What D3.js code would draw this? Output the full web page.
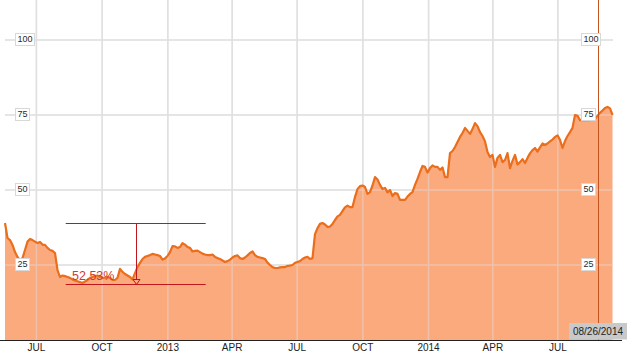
<!DOCTYPE html>
<html>
<head>
<meta charset="utf-8">
<script src="https://cdn.jsdelivr.net/npm/d3@7/dist/d3.min.js"></script>
<style>
  html, body { margin: 0; padding: 0; background: #fff; }
  svg { display: block; font-family: "Liberation Sans", Arial, sans-serif; }
</style>
</head>
<body>
<svg id="chart" width="629" height="358"></svg>
<script>
// ---- data ----
const startDate = "2012-05-18";
const endDate = "2014-09-15T12:00:00Z";
const stepHours = 84; // half-week sampling
const prices = [
  39.0,34.0,33.3,31.7,29.3,27.7,26.5,27.3,30.0,32.8,
  33.7,33.3,32.8,32.3,32.7,31.8,31.7,30.7,30.0,29.7,
  29.0,23.3,21.0,21.5,21.3,21.0,20.7,20.2,19.8,19.6,
  19.3,19.0,19.5,20.0,20.7,21.0,21.3,21.5,21.0,20.7,
  20.8,21.0,20.7,20.0,20.0,20.7,23.7,22.7,22.0,21.5,
  21.0,20.2,22.3,24.3,25.7,27.0,27.7,28.0,28.3,28.7,
  28.5,28.3,28.0,26.8,27.2,28.0,29.3,31.3,31.2,30.7,
  31.0,32.3,31.8,31.0,30.7,29.5,29.7,29.8,29.3,28.8,
  28.5,28.3,28.3,28.5,27.7,27.3,27.0,26.5,26.0,26.3,
  26.8,27.5,28.0,28.2,27.3,27.0,27.5,28.2,29.0,29.5,
  28.3,27.7,27.5,27.3,27.0,25.8,25.0,24.3,24.0,24.0,
  24.2,24.3,24.3,24.7,24.8,25.0,25.7,26.0,26.3,27.0,
  27.5,27.7,27.0,27.3,35.3,37.3,38.7,39.0,38.5,37.7,
  37.8,38.7,40.0,41.2,41.7,43.0,44.2,44.8,44.3,44.3,
  47.7,50.3,51.3,51.5,51.0,48.7,49.3,51.5,54.3,53.5,
  51.7,50.3,50.7,49.2,50.0,48.0,49.0,48.7,46.7,46.7,
  46.7,47.8,48.7,49.3,51.7,53.7,56.0,58.0,57.7,55.8,
  57.3,58.2,57.7,57.7,56.7,57.5,54.3,54.3,62.3,63.0,
  64.3,66.0,67.7,69.0,70.7,69.7,68.7,70.3,72.3,71.3,
  69.3,68.0,66.2,62.7,61.0,61.7,57.7,60.7,61.7,59.3,
  60.0,62.3,57.3,59.7,61.7,58.5,59.3,60.3,59.0,60.7,
  62.2,63.3,64.0,62.8,64.2,65.5,65.0,65.5,66.2,66.8,
  67.7,68.2,66.7,64.0,66.3,68.0,69.3,70.7,75.0,74.7,
  73.3,73.3,73.3,73.3,73.3,73.7,73.7,74.7,75.7,76.5,
  77.3,77.7,77.2,75.0
];
const yTicks = [25, 50, 75, 100];
const xTickDates = ["2012-07-01","2012-10-01","2013-01-01","2013-04-01","2013-07-01","2013-10-01","2014-01-01","2014-04-01","2014-07-01"];
const xTickLabels = ["JUL","OCT","2013","APR","JUL","OCT","2014","APR","JUL"];
const markerDate = "2014-08-26";
const markerLabel = "08/26/2014";
const annFrom = "2012-08-11", annTo = "2013-02-23", annArrow = "2012-11-17";
const annHigh = 39.1, annLow = 18.7;
const annLabel = "52.53%";

// ---- setup ----
const svg = d3.select("#chart");
const W = 629, H = 358;
const base = d3.utcDay.floor(new Date(startDate + "T00:00:00Z"));
const data = prices.map((v, i) => ({ date: d3.utcHour.offset(base, stepHours * i), value: v }));

const x = d3.scaleUtc()
  .domain([base, new Date(endDate)])
  .range([5, 612.5]);
const y = d3.scaleLinear().domain([0, 100]).range([340, 40]);

const gridColor = "#e0e0e0";
function drawGrid(g) {
  g.selectAll("line.h").data(yTicks).join("line")
    .attr("class", "h")
    .attr("x1", 5).attr("x2", 613)
    .attr("y1", d => y(d)).attr("y2", d => y(d));
  g.selectAll("line.v").data(xTickDates).join("line")
    .attr("class", "v")
    .attr("x1", d => x(new Date(d + "T00:00:00Z"))).attr("x2", d => x(new Date(d + "T00:00:00Z")))
    .attr("y1", 0).attr("y2", 340);
}
svg.append("rect").attr("width", W).attr("height", H).attr("fill", "#fff");

const gridUnder = svg.append("g").attr("stroke", gridColor).attr("stroke-width", 1.5);
drawGrid(gridUnder);

const area = d3.area().x(d => x(d.date)).y0(y(0)).y1(d => y(d.value));
svg.append("path").datum(data).attr("d", area).attr("fill", "#fbaa7e");

const gridOver = svg.append("g").attr("stroke", gridColor).attr("stroke-width", 1.5).attr("opacity", 0.45);
drawGrid(gridOver);

const line = d3.line().x(d => x(d.date)).y(d => y(d.value));
svg.append("path").datum(data).attr("d", line)
  .attr("fill", "none").attr("stroke", "#ea6e1b").attr("stroke-width", 2.2)
  .attr("stroke-linejoin", "round");

// marker line
const mx = Math.round(x(new Date(markerDate + "T00:00:00Z"))) + 0.5;
svg.append("line").attr("x1", mx).attr("x2", mx).attr("y1", 0).attr("y2", 340)
  .attr("stroke", "#c4531f").attr("stroke-width", 1);

// y labels on both sides
function yLabels(x0) {
  const g = svg.append("g");
  yTicks.forEach(t => {
    const gy = y(t);
    const txt = g.append("text").attr("x", x0 + 2.5).attr("y", gy + 1.5)
      .attr("font-size", 9).attr("fill", "#2a2a2a").text(t);
    const w = txt.node().getComputedTextLength();
    g.insert("rect", "text").attr("x", x0 + 0.5).attr("y", gy - 6.5)
      .attr("width", w + 4).attr("height", 12)
      .attr("fill", "#fff").attr("stroke", "#d8d8d8").attr("stroke-width", 1);
  });
}
yLabels(15);
yLabels(581);

// annotation
const red = "#c0171c";
const ax1 = x(new Date(annFrom + "T00:00:00Z")), ax2 = x(new Date(annTo + "T00:00:00Z"));
const axA = Math.round(x(new Date(annArrow + "T00:00:00Z"))) + 0.5;
const yHi = Math.round(y(annHigh)) + 0.5, yLo = Math.round(y(annLow)) + 0.5;
const ann = svg.append("g").attr("stroke", red).attr("stroke-width", 1).attr("fill", "none");
ann.append("line").attr("x1", ax1).attr("x2", ax2).attr("y1", yHi).attr("y2", yHi);
ann.append("line").attr("x1", ax1).attr("x2", ax2).attr("y1", yLo).attr("y2", yLo);
ann.append("line").attr("x1", axA).attr("x2", axA).attr("y1", yHi).attr("y2", yLo - 5);
ann.append("path").attr("d", `M${axA - 3.5},${yLo - 5}L${axA + 3.5},${yLo - 5}L${axA},${yLo}Z`);
svg.append("text").attr("x", 72).attr("y", yLo - 5)
  .attr("font-size", 12.5).attr("fill", "#d23a2a").text(annLabel);

// x axis
svg.append("line").attr("x1", 0).attr("x2", 622).attr("y1", 340.5).attr("y2", 340.5)
  .attr("stroke", "#222").attr("stroke-width", 1.2);
svg.append("g").selectAll("text").data(xTickDates).join("text")
  .attr("x", d => x(new Date(d + "T00:00:00Z")))
  .attr("y", 351)
  .attr("text-anchor", "middle")
  .attr("font-size", 10)
  .attr("fill", "#222")
  .text((d, i) => xTickLabels[i]);

// date box
svg.append("rect").attr("x", 569).attr("y", 323).attr("width", 58).attr("height", 16.5)
  .attr("fill", "#c9c9c9");
svg.append("text").attr("x", 598).attr("y", 335).attr("text-anchor", "middle")
  .attr("font-size", 10).attr("fill", "#222").text(markerLabel);
</script>
</body>
</html>
